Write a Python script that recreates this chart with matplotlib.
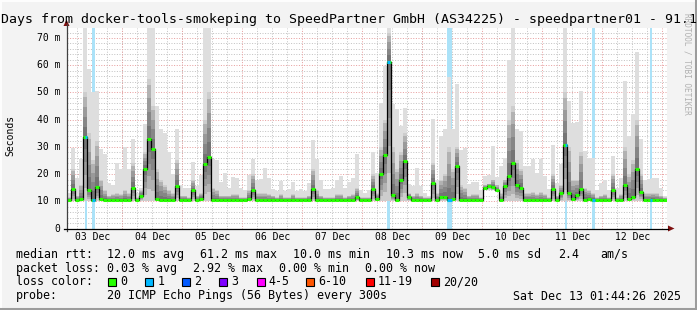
import matplotlib
matplotlib.use("Agg")
import matplotlib.pyplot as plt
import numpy as np
from matplotlib.patches import Rectangle, Polygon

W, H = 697, 310
MONO = "DejaVu Sans Mono"

# smokeping data, one column = 1.6 h (4 px), 150 columns = 10 days
# median rtt (ms)
med = [
    10.3, 14.7, 10.3, 10.8, 33.8, 14.1, 10.3, 15.3, 10.8, 10.3,
    10.3, 10.3, 10.3, 10.3, 10.3, 10.3, 15.0, 10.3, 12.0, 22.0,
    32.8, 29.4, 10.8, 10.3, 10.3, 10.3, 10.3, 15.6, 10.3, 10.3,
    10.3, 14.0, 10.3, 11.0, 23.6, 26.3, 10.3, 10.3, 10.3, 10.3,
    10.3, 10.3, 10.3, 10.3, 10.3, 11.0, 14.0, 10.3, 10.3, 10.3,
    10.3, 10.3, 10.3, 10.3, 10.3, 10.3, 10.3, 10.3, 10.3, 10.3,
    10.3, 14.4, 10.3, 10.3, 10.3, 10.3, 10.3, 10.3, 10.3, 10.3,
    10.3, 10.3, 11.6, 10.3, 10.3, 10.3, 14.7, 10.8, 20.2, 27.0,
    61.2, 12.2, 10.3, 17.8, 24.8, 11.5, 10.3, 10.3, 10.3, 10.3,
    10.3, 16.8, 10.3, 11.7, 11.7, 10.6, 11.0, 23.0, 10.3, 10.3,
    10.3, 10.3, 10.3, 10.3, 14.8, 15.5, 15.2, 14.2, 10.3, 15.6,
    19.3, 24.2, 15.9, 15.0, 10.3, 10.3, 10.3, 10.3, 10.3, 10.3,
    10.3, 14.7, 10.3, 12.9, 30.6, 13.2, 11.0, 12.3, 14.7, 10.6,
    11.0, 10.5, 10.3, 10.3, 10.3, 10.3, 14.1, 10.3, 10.3, 16.0,
    11.0, 11.7, 21.8, 13.5, 10.3, 10.3, 10.5, 10.3, 10.3, 10.3,
]
# top of the denser smoke (ms)
mid = [
    11.5, 22, 12, 16, 50, 35, 25, 32, 18, 14,
    12, 12.5, 13, 12.5, 14, 13, 24, 11.5, 14, 28,
    55, 45, 22, 18, 16, 14, 13, 25, 12, 12,
    11.5, 18, 12, 13, 40, 50, 15, 14, 12, 12,
    12, 12.5, 12.5, 11.5, 11.5, 14, 20, 13, 13, 13,
    12.5, 12, 11.5, 12.5, 11.5, 11.5, 12.5, 11.5, 11.5, 11.5,
    12, 22, 14, 12, 11.5, 11.5, 11.5, 12.5, 12.5, 11.5,
    12, 12.5, 15, 11.5, 11.5, 11.5, 20, 13, 30, 40,
    72, 30, 22, 28, 35, 13, 12, 13, 12, 11.5,
    11.5, 24, 13, 18, 20, 30, 22, 30, 16, 15,
    12, 12.5, 12.5, 11.5, 16, 16.5, 18, 16, 13, 18,
    40, 45, 25, 22, 13, 13, 13.5, 12.5, 13.5, 12.5,
    11.5, 20, 12, 16, 50, 30, 18, 18, 28, 15,
    14, 13, 11.5, 12, 12.5, 11.5, 20, 11.5, 12.5, 30,
    20, 25, 40, 20, 13, 13, 13, 13, 12, 11.5,
]
# slowest ping (ms)
hi = [
    13.2, 29.7, 18.7, 25.7, 74, 58.5, 50, 50.5, 29.1, 27.3,
    16.8, 16, 24, 22, 30, 22, 32.8, 13, 15, 38.3,
    74, 74, 45, 36.5, 35, 28, 20, 36.5, 16, 15,
    15, 24.5, 15.5, 19.5, 74, 74, 25.7, 25, 17, 20.5,
    15, 19, 18.7, 15, 14, 19.5, 25.7, 18, 18.1, 22.4,
    18.7, 14.4, 13.8, 17.5, 13.8, 14.4, 17.1, 13.8, 14.4, 13.8,
    16.8, 32.5, 25.4, 18, 14.4, 14.4, 15, 18, 19.3, 15,
    17, 18.7, 27.3, 14, 13, 14, 28.1, 20.5, 46.3, 59.7,
    74, 45.7, 44, 37.7, 44.4, 16.2, 15.8, 22.4, 15.8, 13.2,
    12, 40.4, 18, 34, 36.5, 55.5, 36.5, 53, 29, 29.7,
    16.2, 17, 17, 14, 19.3, 19.5, 30.3, 19, 23, 26,
    62, 74, 36.5, 35.9, 23, 23, 25.5, 20.5, 25.5, 19.3,
    14.4, 30.6, 16.8, 23.6, 74, 46.9, 38.9, 39, 50.5, 28.5,
    26, 26, 14, 16.8, 18, 14, 26.6, 15, 18.7, 54.2,
    34, 42, 64.9, 32.8, 18, 18.1, 18.7, 18.7, 15, 12,
]
# fastest ping (ms)
lo = [
    10, 10, 10, 10, 10, 10, 10, 10, 10, 10,
    10, 10, 10, 10, 10, 10, 10, 10, 10, 10,
    10, 10, 10, 10, 10, 10, 10, 10, 10, 10,
    10, 10, 10, 10, 10, 10, 10, 10, 10, 10,
    10, 10, 10, 10, 10, 10, 10, 10, 10, 10,
    10, 10, 10, 10, 10, 10, 10, 10, 10, 10,
    10, 10, 10, 10, 10, 10, 10, 10, 10, 10,
    10, 10, 10, 10, 10, 10, 10, 10, 10, 10,
    10, 10, 10, 10, 10, 10, 10, 10, 10, 10,
    10, 10, 10, 10, 10, 10, 10, 10, 10, 10,
    10, 10, 10, 10, 14, 14.2, 14, 13.5, 10, 10,
    10, 10, 10, 10, 10, 10, 10, 10, 10, 10,
    10, 10, 10, 10, 10, 10, 10, 10, 10, 10,
    10, 10, 10, 10, 10, 10, 10, 10, 10, 10,
    10, 10, 10, 10, 10, 10, 10, 10, 10, 10,
]

# packet loss events (hours since start, length in hours)
loss_start = [7.3, 10.1, 128.2, 152.2, 199.3, 210.1, 233.3]
loss_len = [0.8, 1.3, 1.2, 2.0, 0.8, 1.3, 0.9]

day_labels = ["03 Dec", "04 Dec", "05 Dec", "06 Dec", "07 Dec",
              "08 Dec", "09 Dec", "10 Dec", "11 Dec", "12 Dec"]
y_values = [0, 10, 20, 30, 40, 50, 60, 70]
y_labels = ["0", "10 m", "20 m", "30 m", "40 m", "50 m", "60 m", "70 m"]

loss_names = ["0", "1", "2", "3", "4-5", "6-10", "11-19", "20/20"]
loss_colors = ["#26ff00", "#00b8ff", "#0059ff", "#7e00ff",
               "#ff00ff", "#ff5500", "#ff0000", "#a10000"]

title = ("10 Days from docker-tools-smokeping to SpeedPartner GmbH "
         "(AS34225) - speedpartner01 - 91.143.80.10")

# figure
fig = plt.figure(figsize=(W / 100, H / 100), dpi=100)
fig.patch.set_facecolor("#f3f3f3")

X0, X1, Y0, Y1 = 66.5, 666.5, 228.5, 27.7
YMAX = 73.8
ax = fig.add_axes([X0 / W, (H - Y0) / H, (X1 - X0) / W, (Y0 - Y1) / H])
ax.set_facecolor("white")
ax.set_xlim(0, 240)
ax.set_ylim(0, YMAX)
for s in ax.spines.values():
    s.set_visible(False)
ax.set_xticks([])
ax.set_yticks([])

n = len(med)
step = 240 / n
xe = np.arange(n + 1) * step
med_a = np.array(med, float)
mid_a = np.array(mid, float)
hi_a = np.array(hi, float)
lo_a = np.array(lo, float)


def ext(a):
    return np.append(a, a[-1])


# grid
dot = (0, (1, 1.6))
for v in np.arange(2, 74, 2):
    if v % 10:
        ax.axhline(v, color="#c4c4c4", lw=0.72, ls=dot, zorder=1)
for v in range(10, 80, 10):
    ax.axhline(v, color="#e8a0a0", lw=0.72, ls=dot, zorder=1)
t_mid = 22.26
for t in np.arange(4.26, 240, 6):
    if abs((t - t_mid) % 24) > 0.01:
        ax.axvline(t, color="#c4c4c4", lw=0.72, ls=dot, zorder=1)
for d in range(10):
    ax.axvline(t_mid + 24 * d, color="#e8a0a0", lw=0.72, ls=dot, zorder=1)

# loss bands
for s, l in zip(loss_start, loss_len):
    ax.axvspan(s, s + l, color="#abe2f8", lw=0, zorder=2)

# smoke
ax.fill_between(xe, ext(lo_a), ext(hi_a), step="post", color="#dedede",
                lw=0, zorder=3)
ax.fill_between(xe, ext(lo_a), ext(mid_a), step="post", color="#cdcdcd",
                lw=0, zorder=3)
for j in range(4):
    f = 1 - j / 4
    lower = med_a - (med_a - lo_a) * f * 0.8
    upper = med_a + (mid_a - med_a) * f * 0.9
    ax.fill_between(xe, ext(lower), ext(upper), step="post", color="black",
                    alpha=0.13, lw=0, zorder=3)

# median
ax.step(xe, ext(med_a), where="post", color="black", lw=0.9, zorder=4)
ax.hlines(med_a, xe[:-1], xe[1:], colors=loss_colors[0], lw=2.2,
          zorder=5)
for s, l in zip(loss_start, loss_len):
    k = int((s + l / 2) / step)
    ax.hlines(med_a[k], s, s + l, colors=loss_colors[1], lw=2.2, zorder=6)

# overlay in pixel coordinates
ov = fig.add_axes([0, 0, 1, 1])
ov.set_xlim(0, W)
ov.set_ylim(H, 0)
ov.axis("off")
ov.patch.set_alpha(0)

# frame
ov.plot([0, W], [0.5, 0.5], color="#fdfdfd", lw=1.5)
ov.plot([0.5, 0.5], [0, H], color="#fdfdfd", lw=1.5)
ov.plot([0, W], [H - 1, H - 1], color="#9c9c9c", lw=2.2)
ov.plot([W - 1, W - 1], [0, H], color="#9c9c9c", lw=2.2)

# axes lines with arrows
ov.plot([X0, X0], [Y0 + 2, 24], color="#404040", lw=0.9)
ov.add_patch(Polygon([[X0 - 3, 26], [X0 + 3, 26], [X0, 19.5]],
                     closed=True, color="#7f1010", lw=0))
ov.plot([X0 - 3, 668], [Y0, Y0], color="black", lw=0.9)
ov.add_patch(Polygon([[668, Y0 - 3], [668, Y0 + 3], [674.5, Y0]],
                     closed=True, color="#7f1010", lw=0))


def ypix(v):
    return Y0 - (Y0 - Y1) * v / YMAX


def xpix(t):
    return X0 + (X1 - X0) * t / 240


for v, lab in zip(y_values, y_labels):
    ov.text(60.5, ypix(v), lab, ha="right", va="center", family=MONO,
            fontsize=7.0, color="black")
for d, lab in enumerate(day_labels):
    ov.text(xpix(10.26 + 24 * d), 237.5, lab, ha="center", va="center",
            family=MONO, fontsize=7.0, color="black")

ov.text(10, 135, "Seconds", rotation=90, ha="center", va="center",
        family=MONO, fontsize=7.0, color="black")
ov.text(-22.8, 19.5, title, ha="left", va="center", family=MONO,
        fontsize=9.5, color="black")
ov.text(687, 13, "RRDTOOL / TOBI OETIKER", rotation=-90, ha="center",
        va="top", family=MONO, fontsize=5.6, color="#b0b0b0")

# legend / stats
FS = 8.35
rows = [
    (254.3, [(16, "median rtt:"), (107.3, "12.0 ms avg"),
             (200, "61.2 ms max"), (292.7, "10.0 ms min"),
             (386, "10.3 ms now"), (478.3, "5.0 ms sd"),
             (558.3, "2.4"), (600, "am/s")]),
    (268.3, [(16, "packet loss:"), (107.3, "0.03 % avg"),
             (193, "2.92 % max"), (279, "0.00 % min"),
             (365, "0.00 % now")]),
    (281.7, [(16, "loss color:")]),
    (296, [(16, "probe:"),
           (107.3, "20 ICMP Echo Pings (56 Bytes) every 300s"),
           (513.3, "Sat Dec 13 01:44:26 2025")]),
]
for y, items in rows:
    for x, s in items:
        ov.text(x, y, s, ha="left", va="center", family=MONO, fontsize=FS,
                color="black")

sq_x = [108, 145.3, 182.3, 219.3, 256.7, 306.3, 365.7, 430.7]
for x, name, c in zip(sq_x, loss_names, loss_colors):
    ov.add_patch(Rectangle((x, 277.7), 8, 8, facecolor=c,
                           edgecolor="black", lw=0.8))
    ov.text(x + 12, 281.7, name, ha="left", va="center", family=MONO,
            fontsize=FS, color="black")

fig.savefig("out.png", dpi=100)
